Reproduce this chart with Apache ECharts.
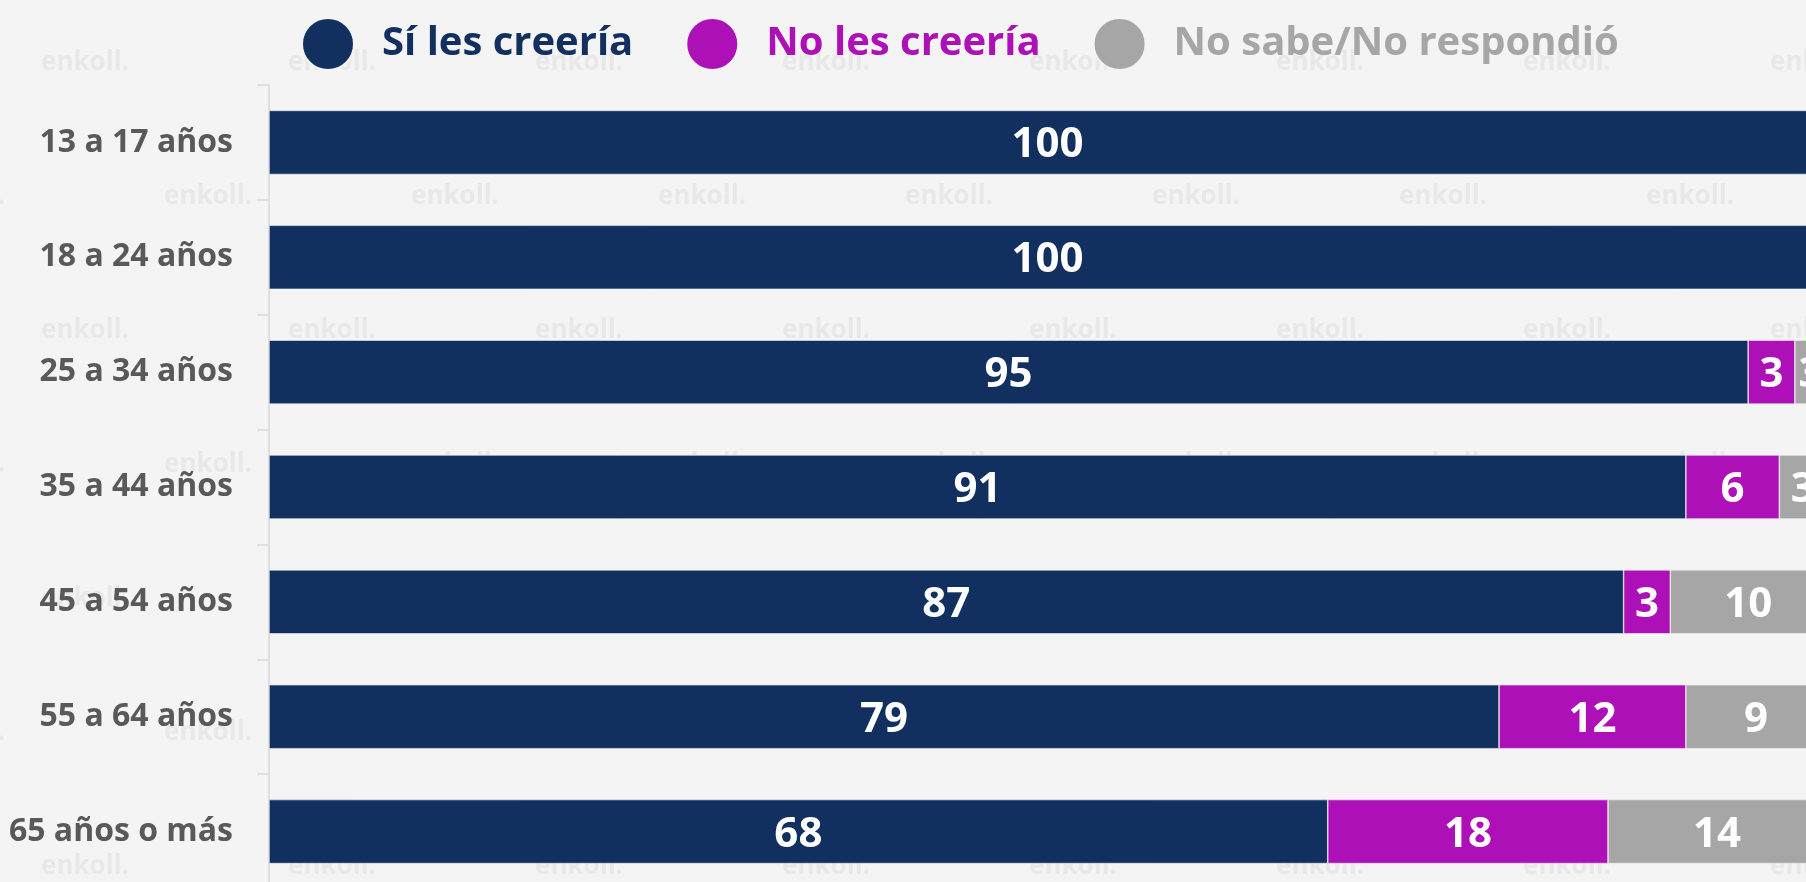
<!DOCTYPE html>
<html>
<head>
<meta charset="utf-8">
<script src="https://cdn.jsdelivr.net/npm/echarts@6/dist/echarts.min.js"></script>
<style>
  html, body { margin: 0; padding: 0; background: #f4f4f4; }
  #chart { width: 1806px; height: 882px; }
</style>
</head>
<body>
<div id="chart"></div>
<script>
const categories = ['13 a 17 años', '18 a 24 años', '25 a 34 años', '35 a 44 años', '45 a 54 años', '55 a 64 años', '65 años o más'];
const siValues = [100, 100, 95, 91, 87, 79, 68];
const noValues = [0, 0, 3, 6, 3, 12, 18];
const nsValues = [0, 0, 3, 3, 10, 9, 14];
const seriesNames = ['Sí les creería', 'No les creería', 'No sabe/No respondió'];

const colors = ['#12305f', '#ae10b8', '#a6a6a6'];
const FONT = '"Open Sans", sans-serif';

// faint "enkoll." watermark tiles
const watermark = [];
for (let row = 0; row < 7; row++) {
    const offset = row % 2 ? 123 : 0;
    for (let col = -1; col < 8; col++) {
        watermark.push({
            type: 'text',
            x: 85 + offset + col * 247,
            y: 63 + row * 134,
            z: -10,
            silent: true,
            style: {
                text: 'enkoll.',
                fill: '#e8e8e8',
                font: 'bold 26px ' + FONT,
                align: 'center',
                verticalAlign: 'middle'
            }
        });
    }
}

const chart = echarts.init(document.getElementById('chart'));

const makeSeries = (name, data, i) => ({
    name,
    type: 'bar',
    stack: 'total',
    data,
    barWidth: 64,
    itemStyle: { color: colors[i], borderColor: '#f4f4f4', borderWidth: 0.6 },
    label: {
        show: true,
        position: 'inside',
        offset: [0, 3],
        color: '#fff',
        fontFamily: FONT,
        fontWeight: 'bold',
        fontSize: 42,
        formatter: p => p.value > 0 ? p.value : ''
    }
});

chart.setOption({
    animation: false,
    backgroundColor: '#f4f4f4',
    graphic: watermark,
    legend: {
        left: 296,
        top: 12,
        icon: 'circle',
        itemWidth: 52,
        itemHeight: 52,
        itemGap: 52,
        textStyle: { fontFamily: FONT, fontWeight: 'bold', fontSize: 40, padding: [0, 0, 0, 23] },
        data: seriesNames.map((name, i) => ({ name, textStyle: { color: colors[i] } }))
    },
    grid: {
        left: 269,
        top: 85,
        width: 1557,
        height: 804,
        containLabel: false,
        outerBoundsMode: 'none'   // bars run past the right/bottom edge like the source crop
    },
    xAxis: {
        type: 'value',
        min: 0,
        max: 100,
        show: false
    },
    yAxis: {
        type: 'category',
        inverse: true,
        data: categories,
        axisLine: { lineStyle: { color: '#d9d9d9', width: 1.5 } },
        axisTick: { show: true, length: 12, lineStyle: { color: '#d9d9d9', width: 1.5 } },
        axisLabel: {
            margin: 36,
            color: '#595959',
            fontFamily: FONT,
            fontWeight: 'bold',
            fontSize: 32,
            padding: [6, 0, 0, 0]
        }
    },
    series: [
        makeSeries(seriesNames[0], siValues, 0),
        makeSeries(seriesNames[1], noValues, 1),
        makeSeries(seriesNames[2], nsValues, 2)
    ]
});
</script>
</body>
</html>
